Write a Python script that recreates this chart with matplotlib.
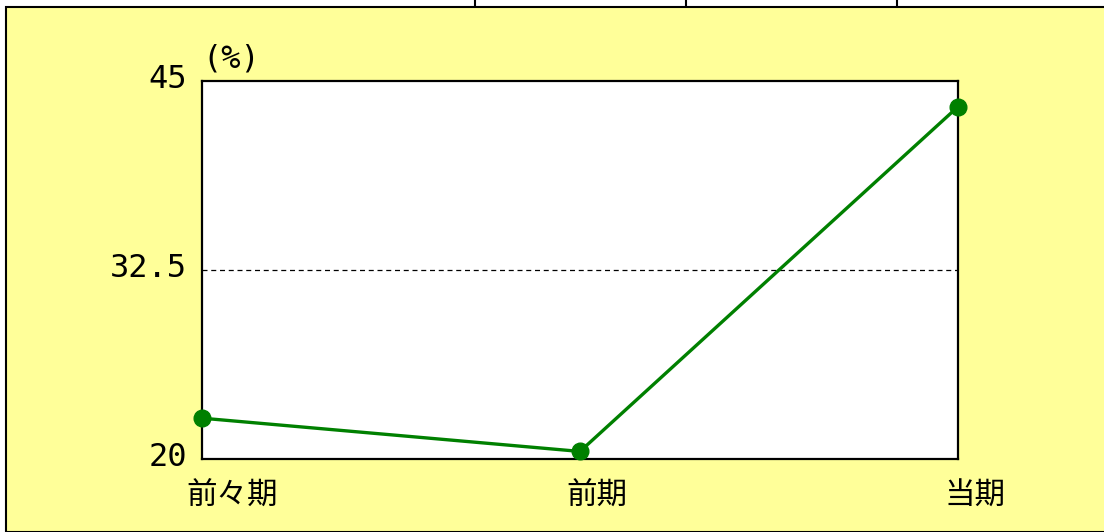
import matplotlib
matplotlib.use("Agg")
import matplotlib.pyplot as plt
from matplotlib.patches import Rectangle
from matplotlib.lines import Line2D
from matplotlib.transforms import ScaledTranslation

plt.rcParams['font.family'] = ['Noto Sans CJK JP', 'DejaVu Sans']

# data
categories = ["前々期", "前期", "当期"]
values = [22.7, 20.5, 43.3]
yticks = [20, 32.5, 45]
ytick_labels = ["20", "32.5", "45"]

fig = plt.figure(figsize=(11.04, 5.32), dpi=100)
fig.patch.set_facecolor("white")

# yellow panel with the table row above it
fig.patches.append(Rectangle((6 / 1104, 0), 1.1, 1 - 7 / 532, transform=fig.transFigure,
                             facecolor="#FFFF99", edgecolor="black", linewidth=1.5, zorder=-2))
for xpx in [475, 686, 897]:
    fig.lines.append(Line2D([xpx / 1104, xpx / 1104], [1 - 7 / 532, 1], transform=fig.transFigure,
                            color="black", linewidth=1.5, zorder=-2))

ax = fig.add_axes([202 / 1104, 73 / 532, 756 / 1104, 378 / 532])
ax.set_zorder(1)
ax.set_facecolor("white")

x = list(range(len(categories)))
ax.plot(x, values, color="#008000", linewidth=2.4, marker="o", markersize=12, clip_on=False, zorder=3)

ax.axhline(32.5, color="black", linewidth=0.9, linestyle=(0, (4, 3)), zorder=1)

ax.set_xlim(0, 2)
ax.set_ylim(20, 45)
ax.set_xticks(x)
ax.set_xticklabels(categories, fontsize=22)
ax.set_yticks(yticks)
ax.set_yticklabels(ytick_labels, fontsize=23, family="DejaVu Sans Mono")
ax.tick_params(length=0)
ax.tick_params(axis="y", pad=11)
ax.tick_params(axis="x", pad=16)
# category labels sit a little right of their points
for lab, dx in zip(ax.get_xticklabels(), [30, 17, 17]):
    lab.set_transform(lab.get_transform() + ScaledTranslation(dx / 100, 0, fig.dpi_scale_trans))
for lab in ax.get_yticklabels():
    lab.set_transform(lab.get_transform() + ScaledTranslation(0, 5 / 100, fig.dpi_scale_trans))
for s in ax.spines.values():
    s.set_linewidth(1.6)

ax.text(0.0, 1.016, "(%)", transform=ax.transAxes, fontsize=23, family="DejaVu Sans Mono",
        ha="left", va="bottom")

fig.savefig("out.png", dpi=100)
